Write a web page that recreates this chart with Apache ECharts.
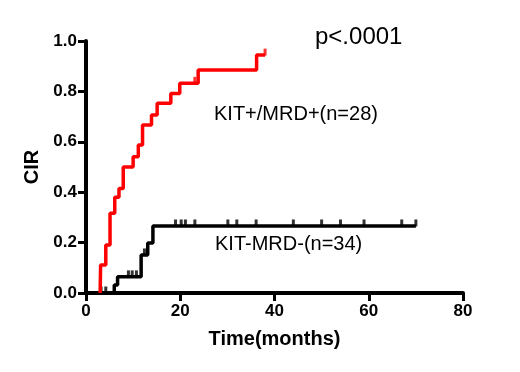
<!DOCTYPE html>
<html>
<head>
<meta charset="utf-8">
<script src="https://cdn.jsdelivr.net/npm/echarts@6/dist/echarts.min.js"></script>
<style>
  html, body { margin: 0; padding: 0; background: #fff; }
  #chart { width: 520px; height: 372px; }
</style>
</head>
<body>
<div id="chart"></div>
<script>
// step curves: [time (months), CIR]
var redSteps = [
  [3, 0], [3.1, 0.111], [4.2, 0.19], [5.1, 0.316], [6.1, 0.38], [7.0, 0.415],
  [7.9, 0.5], [10, 0.541], [11.1, 0.587], [12, 0.667], [13.9, 0.706],
  [15.1, 0.753], [18, 0.792], [19.9, 0.832], [23.8, 0.885], [36.2, 0.944], [38, 0.944]
];
var blackSteps = [
  [0, 0], [6, 0.032], [6.7, 0.064], [11.7, 0.151], [13.1, 0.198], [14.2, 0.266], [70, 0.266]
];
// censor marks
var redCensor = [[23.1, 0.832], [38, 0.944]];
var blackCensor = [
  [3.2, 0], [4.2, 0], [9.0, 0.064], [9.8, 0.064], [10.7, 0.064], [12.4, 0.151],
  [19.0, 0.266], [20.2, 0.266], [21.1, 0.266], [23.1, 0.266], [30.1, 0.266],
  [32.0, 0.266], [36.1, 0.266], [44.0, 0.266], [50.0, 0.266], [54.0, 0.266],
  [59.0, 0.266], [67.0, 0.266], [70.0, 0.266]
];

var chart = echarts.init(document.getElementById("chart"));

var FONT = "Liberation Sans, Arial, sans-serif";

var option = {
  animation: false,
  backgroundColor: "#fff",
  grid: { left: 86, right: 57, top: 41, bottom: 79 },
  xAxis: {
    type: "value",
    min: 0,
    max: 80,
    interval: 20,
    name: "Time(months)",
    nameLocation: "middle",
    nameGap: 36,
    nameTextStyle: { fontFamily: FONT, fontWeight: "bold", fontSize: 20, color: "#000" },
    axisLine: { show: true, onZero: false, lineStyle: { color: "#000", width: 4 } },
    axisTick: { show: true, length: 8, lineStyle: { color: "#000", width: 3 } },
    axisLabel: { margin: 10, fontFamily: FONT, fontWeight: "bold", fontSize: 17, color: "#000" },
    splitLine: { show: false }
  },
  yAxis: {
    type: "value",
    min: 0,
    max: 1,
    interval: 0.2,
    name: "CIR",
    nameLocation: "middle",
    nameGap: 44,
    nameRotate: 90,
    nameTextStyle: { fontFamily: FONT, fontWeight: "bold", fontSize: 20, color: "#000" },
    axisLine: { show: true, onZero: false, lineStyle: { color: "#000", width: 4 } },
    axisTick: { show: true, length: 8, lineStyle: { color: "#000", width: 3 } },
    axisLabel: {
      margin: 9, fontFamily: FONT, fontWeight: "bold", fontSize: 17, color: "#000",
      formatter: function (v) { return v.toFixed(1); }
    },
    splitLine: { show: false }
  },
  series: [
    {
      type: "line",
      step: "end",
      data: blackSteps,
      symbol: "none",
      lineStyle: { color: "#000", width: 3.5 },
      z: 3
    },
    {
      type: "scatter",
      data: blackCensor,
      symbol: "rect",
      symbolSize: [3, 7],
      symbolOffset: [0, -3],
      itemStyle: { color: "#000" },
      z: 3
    },
    {
      type: "line",
      step: "end",
      data: redSteps,
      symbol: "none",
      lineStyle: { color: "#ff0000", width: 3.5 },
      z: 4
    },
    {
      type: "scatter",
      data: redCensor,
      symbol: "rect",
      symbolSize: [3, 7],
      symbolOffset: [0, -3],
      itemStyle: { color: "#ff0000" },
      z: 4
    }
  ],
  graphic: [
    {
      type: "text", left: 315, top: 25,
      style: { text: "p<.0001", font: "24px " + FONT, fill: "#000" }
    },
    {
      type: "text", left: 214, top: 104,
      style: { text: "KIT+/MRD+(n=28)", font: "20px " + FONT, fill: "#000" }
    },
    {
      type: "text", left: 215, top: 234,
      style: { text: "KIT-MRD-(n=34)", font: "20px " + FONT, fill: "#000" }
    }
  ]
};

chart.setOption(option);
</script>
</body>
</html>
